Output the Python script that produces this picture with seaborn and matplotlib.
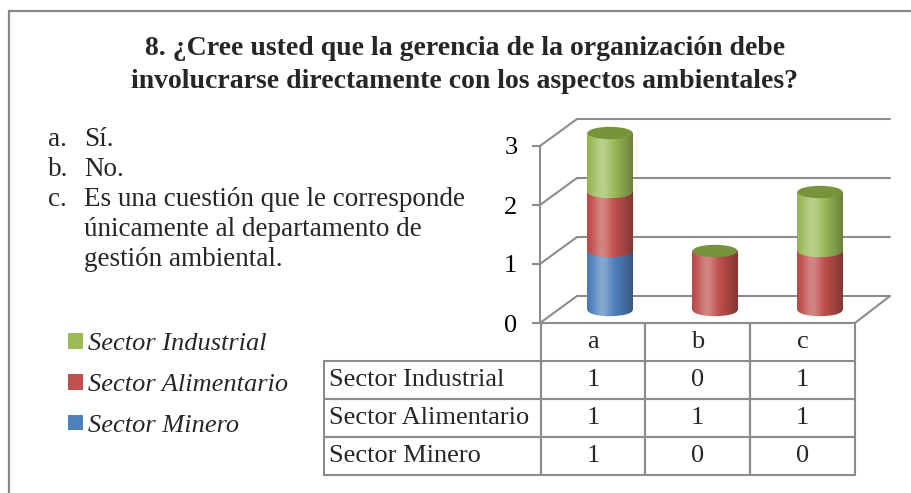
import numpy as np
import pandas as pd
import matplotlib
matplotlib.use("Agg")
import matplotlib.pyplot as plt
import seaborn as sns
from matplotlib.patches import Ellipse, Patch
from matplotlib.lines import Line2D

# ---------------- data ----------------
categories = ["a", "b", "c"]
series = ["Sector Industrial", "Sector Alimentario", "Sector Minero"]
industrial = [1, 0, 1]
alimentario = [1, 1, 1]
minero = [1, 0, 0]
y_ticks = [0, 1, 2, 3]
title_lines = ["8. ¿Cree usted que la gerencia de la organización debe",
               "involucrarse directamente con los aspectos ambientales?"]
options = [("a.", "Sí."), ("b.", "No."),
           ("c.", "Es una cuestión que le corresponde"),
           ("", "únicamente al departamento de"),
           ("", "gestión ambiental.")]
colors = {"Sector Industrial": "#9BBB59",
          "Sector Alimentario": "#C0504D",
          "Sector Minero": "#4F81BD"}
cap_color = "#77933C"
grid_color = "#8C8C8C"

sns.set_theme(style="white")
SERIF = ["Liberation Serif", "DejaVu Serif"]
plt.rcParams["font.family"] = SERIF

W, H = 912, 493
fig = plt.figure(figsize=(W / 100, H / 100), dpi=100)


def fx(px):
    return px / W


def fy(py):
    return 1 - py / H


# ---------------- stacked data (bottom -> top) ----------------
stack = [("Sector Minero", minero), ("Sector Alimentario", alimentario),
         ("Sector Industrial", industrial)]
df = pd.DataFrame({"categoria": categories})
cum = np.zeros(len(categories))
bottoms = {}
for name, vals in stack:
    bottoms[name] = cum.copy()
    cum = cum + np.array(vals, dtype=float)
    df[name] = cum
totals = cum

ax = fig.add_axes([fx(520), fy(330), fx(895) - fx(520), fy(110) - fy(330)])
XLIM = ((520 - 610) / 105, (895 - 610) / 105)
YLIM = ((310 - 330) / 59, (310 - 110) / 59)

BAR_W = 0.43
CAP_H = 0.21

t = np.linspace(0, 1, 96)
net = 0.30 * np.exp(-((t - 0.33) / 0.2) ** 2) - 0.72 * (t - 0.33) ** 2
GRAD = np.zeros((1, t.size, 4))
GRAD[0, :, :3] = np.where(net[:, None] > 0, 1.0, 0.0)
GRAD[0, :, 3] = np.clip(np.abs(net), 0, 1)


def add_gradient(patch, x0, x1, y0, y1, z):
    if y1 - y0 <= 0:
        return
    im = ax.imshow(GRAD, extent=[x0, x1, y0, y1], aspect="auto",
                   interpolation="bilinear", zorder=z)
    im.set_clip_path(patch)


# bodies: cumulative totals drawn from tallest to shortest
z = 2.0
for name, vals in reversed(stack):
    n0 = len(ax.patches)
    sns.barplot(data=df, x="categoria", y=name, color=colors[name],
                width=BAR_W, saturation=1, linewidth=0, edgecolor="none", ax=ax)
    for p in ax.patches[n0:]:
        p.set_zorder(z)
        bx, by = p.get_x(), p.get_y()
        add_gradient(p, bx, bx + p.get_width(), by, by + p.get_height(), z + 0.01)
    z += 0.1

# rounded bottoms of every non-empty segment
z = 3.0
for name, vals in stack:
    for i, v in enumerate(vals):
        if v > 0:
            yb = bottoms[name][i]
            e = Ellipse((i, yb), BAR_W, CAP_H, facecolor=colors[name],
                        edgecolor="none", zorder=z)
            ax.add_patch(e)
            add_gradient(e, i - BAR_W / 2, i + BAR_W / 2,
                         yb - CAP_H / 2, yb + CAP_H / 2, z + 0.01)
    z += 0.1

# caps
for i, tot in enumerate(totals):
    ax.add_patch(Ellipse((i, tot), BAR_W, CAP_H, facecolor=cap_color,
                         edgecolor="none", zorder=4))

# ---------------- 3D frame ----------------
FL, BL, FR, BR = (540 - 610) / 105, (577 - 610) / 105, (855 - 610) / 105, (890 - 610) / 105
FDY, BDY = (310 - 323) / 59, (310 - 296) / 59
for v in y_ticks:
    ax.plot([BL, BR], [v + BDY, v + BDY], color=grid_color, lw=1.5, zorder=1)
    ax.plot([FL, BL], [v + FDY, v + BDY], color=grid_color, lw=1.5, zorder=1)
ax.plot([FL, FR, BR], [FDY, FDY, BDY], color=grid_color, lw=1.5, zorder=1)

for s in ["top", "right", "bottom"]:
    ax.spines[s].set_visible(False)
ax.spines["left"].set_position(("data", FL))
ax.spines["left"].set_bounds(FDY, max(y_ticks) + FDY)
ax.spines["left"].set_color(grid_color)
ax.spines["left"].set_linewidth(1.5)
ax.set_yticks([v + FDY for v in y_ticks], [str(v) for v in y_ticks])
ax.tick_params(axis="y", left=True, length=5.8, width=1.5, color=grid_color,
               pad=10.5, labelsize=19, labelcolor="black")
ax.set_xticks([])
ax.set_xlabel("")
ax.set_ylabel("")
ax.set_facecolor("none")
ax.set_xlim(*XLIM)
ax.set_ylim(*YLIM)
ax.set_aspect("auto")
for lab in ax.get_yticklabels():
    lab.set_fontfamily(SERIF)

# ---------------- data table ----------------
tab_ax = fig.add_axes([fx(324), fy(475), fx(855) - fx(324), fy(323) - fy(475)])
tab_ax.axis("off")
cell_text = [[""] + categories] + [
    [s] + [str(v) for v in vals]
    for s, vals in zip(series, [industrial, alimentario, minero])]
cw = np.array([217, 105, 105, 105], dtype=float)
tbl = tab_ax.table(cellText=cell_text, colWidths=list(cw / cw.sum()),
                   cellLoc="center", bbox=[0, 0, 1, 1])
tbl.auto_set_font_size(False)
tbl.set_fontsize(19)
for (r, c), cell in tbl.get_celld().items():
    cell.set_edgecolor(grid_color)
    cell.set_linewidth(1.5)
    cell.set_facecolor("none")
    cell.get_text().set_fontfamily(SERIF)
    if r == 0:
        cell.visible_edges = "" if c == 0 else "LR"
    if c == 0 and r > 0:
        cell.get_text().set_horizontalalignment("left")
        cell.PAD = 0.024

# ---------------- legend ----------------
handles = [Patch(facecolor=colors[s], edgecolor="none") for s in series]
fig.legend(handles, series, loc="upper left", bbox_to_anchor=(fx(68), fy(333)),
           frameon=False, prop=dict(family=SERIF, style="italic", size=19),
           handlelength=0.55, handleheight=0.55, handletextpad=0.2,
           labelspacing=0.7, borderpad=0, borderaxespad=0)

# ---------------- texts ----------------
fig.text(fx(465), fy(55), title_lines[0], ha="center", va="baseline",
         fontsize=20, fontweight="bold")
fig.text(fx(465), fy(88), title_lines[1], ha="center", va="baseline",
         fontsize=20, fontweight="bold")
for k, (lbl, txt) in enumerate(options):
    yb = 146 + 30 * k
    if lbl:
        fig.text(fx(48), fy(yb), lbl, va="baseline", fontsize=19.5)
    fig.text(fx(84), fy(yb), txt, va="baseline", fontsize=19.5)

# outer frame (left and top edges visible)
fig.add_artist(Line2D([fx(9), fx(9)], [fy(11), 0], color="#888888", lw=1.6))
fig.add_artist(Line2D([fx(9), 1], [fy(11), fy(11)], color="#888888", lw=1.6))

fig.savefig("out.png", dpi=100)
